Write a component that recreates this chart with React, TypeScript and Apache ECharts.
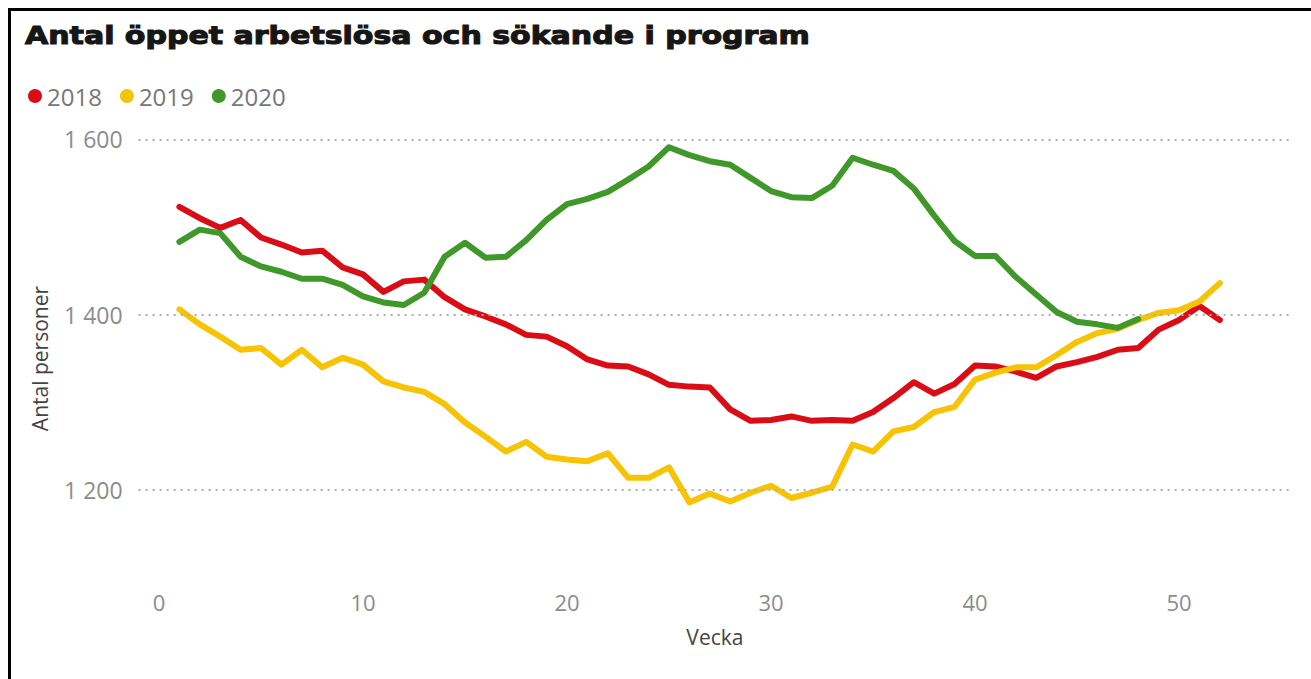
import React, { useEffect, useRef } from "react";
import * as echarts from "echarts";

const title = "Antal öppet arbetslösa och sökande i program";
const seriesNames = ["2018", "2019", "2020"];
const seriesColors = ["#da0d17", "#f6c305", "#41982a"];
const yTicks = [1200, 1400, 1600];
const xTicks = [0, 10, 20, 30, 40, 50];

const values2018 = [
  1523, 1510, 1499, 1508, 1488, 1480, 1471, 1473, 1454, 1446, 1426, 1438, 1440,
  1420, 1406, 1398, 1389, 1377, 1375, 1364, 1349, 1342, 1341, 1332, 1320, 1318,
  1317, 1292, 1279, 1280, 1284, 1279, 1280, 1279, 1289, 1305, 1323, 1310, 1321,
  1342, 1341, 1335, 1328, 1341, 1346, 1352, 1360, 1362, 1383, 1394, 1410, 1394,
];
const values2019 = [
  1406, 1389, 1375, 1360, 1362, 1343, 1360, 1340, 1351, 1343, 1324, 1317, 1312,
  1298, 1277, 1261, 1244, 1255, 1238, 1235, 1233, 1242, 1214, 1214, 1226, 1186,
  1196, 1187, 1197, 1205, 1191, 1197, 1204, 1252, 1244, 1267, 1272, 1289, 1295,
  1326, 1334, 1340, 1340, 1354, 1369, 1379, 1384, 1394, 1402, 1405, 1415, 1436,
];
const values2020 = [
  1483, 1497, 1493, 1466, 1455, 1449, 1441, 1441, 1434, 1421, 1414, 1411, 1425,
  1466, 1482, 1465, 1466, 1485, 1508, 1526, 1532, 1540, 1554, 1569, 1591, 1582,
  1575, 1571, 1556, 1541, 1534, 1533, 1547, 1579, 1571, 1564, 1544, 1513, 1484,
  1467, 1467, 1443, 1423, 1403, 1392, 1389, 1385, 1395,
];

const allValues = [values2018, values2019, values2020];

function fmtThousands(v: number): string {
  const s = String(v);
  return s.length > 3 ? s.slice(0, s.length - 3) + " " + s.slice(-3) : s;
}

export default function App() {
  const ref = useRef<HTMLDivElement>(null);
  useEffect(() => {
    if (!ref.current) return;
    const chart = echarts.init(ref.current, null, { renderer: "svg" });
    const font = "'Open Sans', 'Noto Sans', sans-serif";
    const dataSeries = allValues.map((vals, i) => ({
      name: seriesNames[i],
      type: "line",
      data: vals.map((v, k) => [k + 1, v]),
      showSymbol: false,
      symbol: "none",
      z: 3 + i,
      lineStyle: { color: seriesColors[i], width: 6, join: "round", cap: "round" },
      itemStyle: { color: seriesColors[i] },
    }));
    const option: any = {
      animation: false,
      backgroundColor: "#ffffff",
      graphic: [
        {
          type: "line",
          shape: { x1: 8, y1: 9.5, x2: 1311, y2: 9.5 },
          style: { stroke: "#000", lineWidth: 3 },
        },
        {
          type: "line",
          shape: { x1: 9.5, y1: 8, x2: 9.5, y2: 679 },
          style: { stroke: "#000", lineWidth: 3 },
        },
        {
          type: "text",
          x: 25,
          y: 35,
          scaleX: 1.2,
          style: {
            text: title,
            fontFamily: "'DejaVu Sans', sans-serif",
            fontWeight: "bold",
            fontSize: 25,
            fill: "#161616",
            stroke: "#161616",
            lineWidth: 1.1,
            verticalAlign: "middle",
            align: "left",
          },
        },
      ],
      legend: {
        data: seriesNames,
        left: 23,
        top: 79,
        icon: "circle",
        itemWidth: 14,
        itemHeight: 14,
        itemGap: 18,
        textStyle: { fontFamily: font, fontSize: 24, color: "#777" },
      },
      grid: { left: 138.6, top: 139.3, width: 1152.6, height: 438.5 },
      xAxis: {
        type: "value",
        min: -1,
        max: 55.5,
        interval: 1,
        name: "Vecka",
        nameLocation: "middle",
        nameGap: 49,
        nameTextStyle: { fontFamily: font, fontSize: 21, color: "#444" },
        axisLine: { show: false },
        axisTick: { show: false },
        splitLine: { show: false },
        axisLabel: {
          fontFamily: font,
          fontSize: 22,
          color: "#8c8c8c",
          margin: 13,
          formatter: (v: number) => (xTicks.indexOf(v) >= 0 ? String(v) : ""),
        },
      },
      yAxis: {
        type: "value",
        min: 1100,
        max: 1600,
        interval: 100,
        name: "Antal personer",
        nameLocation: "middle",
        nameGap: 88,
        nameRotate: 90,
        nameTextStyle: { fontFamily: font, fontSize: 21, color: "#444" },
        axisLine: { show: false },
        axisTick: { show: false },
        splitLine: { show: false },
        axisLabel: {
          fontFamily: font,
          fontSize: 23,
          color: "#8c8c8c",
          margin: 16,
          formatter: (v: number) => (yTicks.indexOf(v) >= 0 ? fmtThousands(v) : ""),
        },
      },
      series: [
        {
          name: "grid",
          type: "line",
          data: [],
          z: 1,
          silent: true,
          markLine: {
            silent: true,
            symbol: ["none", "none"],
            label: { show: false },
            lineStyle: { type: [2, 5], color: "#adadad", width: 2 },
            data: yTicks.map((t) => ({ yAxis: t })),
          },
        },
        ...dataSeries,
      ],
    };
    chart.setOption(option);
    return () => chart.dispose();
  }, []);
  return (
    <div
      ref={ref}
      style={{ position: "absolute", left: 0, top: 0, width: 1311, height: 679, background: "#fff" }}
    />
  );
}
